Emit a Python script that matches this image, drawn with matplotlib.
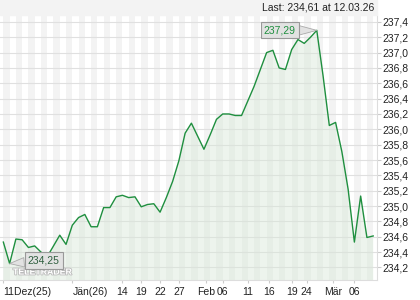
import numpy as np
import matplotlib
matplotlib.use("Agg")
import matplotlib.pyplot as plt
import matplotlib.patheffects as pe
from matplotlib.patches import Rectangle

plt.rcParams['font.family'] = ['Liberation Sans', 'DejaVu Sans']

# daily closing values, 60 trading days (Dec 25 -> Mar 26)
values = [234.53, 234.25, 234.57, 234.56, 234.46, 234.48, 234.40, 234.34, 234.48, 234.62,
          234.50, 234.75, 234.85, 234.89, 234.73, 234.73, 234.98, 234.98, 235.12, 235.14,
          235.11, 235.12, 234.99, 235.02, 235.03, 234.92, 235.11, 235.32, 235.59, 235.95,
          236.08, 235.91, 235.74, 235.93, 236.13, 236.20, 236.20, 236.18, 236.18, 236.37,
          236.56, 236.78, 237.00, 237.03, 236.80, 236.78, 237.04, 237.17, 237.12, 237.20,
          237.29, 236.70, 236.05, 236.09, 235.71, 235.22, 234.53, 235.13, 234.59, 234.61]

x_labels = ['11Dez(25)', 'Jän(26)', '14', '19', '22', '27', 'Feb', '06',
            '11', '16', '19', '24', 'Mär', '06']
x_label_pos = [0, 11, 19, 22, 25, 28, 32.3, 35, 39, 42.4, 46, 48.4, 52.6, 56]
y_ticks = [234.2, 234.4, 234.6, 234.8, 235.0, 235.2, 235.4, 235.6,
           235.8, 236.0, 236.2, 236.4, 236.6, 236.8, 237.0, 237.2, 237.4]
last_text = "Last: 234,61 at 12.03.26"

green = '#1f8f3f'
txt = '#222222'

x = np.arange(len(values))
vals = np.array(values)

fig = plt.figure(figsize=(4.2, 3.0), dpi=100)
ax = fig.add_axes([0.0005, 0.0667, 0.897, 0.8833])

# header band above the plot
fig.patches.append(Rectangle((0, 0.95), 0.8975, 0.05, transform=fig.transFigure,
                             color='#f3f3f3', zorder=0))
fig.text(0.89, 0.975, last_text, ha='right', va='center', fontsize=7.5, color=txt)

# alternating day stripes
for i in range(0, len(values) - 1, 2):
    ax.axvspan(i, i + 1, color='#f3f3f3', lw=0, zorder=0.1)

ax.set_axisbelow(True)
ax.yaxis.grid(True, color='#e0e0e0', lw=0.8)

ax.fill_between(x, vals, 230, color='#d8e8d8', alpha=0.45, lw=0, zorder=1)
ax.plot(x, vals, color=green, lw=1.0, zorder=2)

ax.set_xlim(-0.5, 59.6)
ax.set_ylim(234.036, 237.49)

ax.yaxis.tick_right()
ax.set_yticks(y_ticks)
ax.set_yticklabels([f"{v:.1f}".replace('.', ',') for v in y_ticks])
ax.tick_params(axis='y', length=3, color='#cccccc', pad=1, labelsize=7.5, labelcolor=txt)

ax.set_xticks(x_label_pos)
ax.set_xticklabels(x_labels)
ax.tick_params(axis='x', length=2, color='#cccccc', pad=3, labelsize=7.5, labelcolor=txt)
for lbl in ax.get_xticklabels()[:2]:
    lbl.set_ha('left')

for s in ['top', 'left']:
    ax.spines[s].set_visible(False)
ax.spines['right'].set_color('#dddddd')
ax.spines['bottom'].set_color('#dddddd')

# watermark
ax.text(0.034, 0.03, 'TELETRADER', transform=ax.transAxes, fontsize=6.3,
        fontweight='bold', color='white', va='center', ha='left', zorder=3,
        path_effects=[pe.withStroke(linewidth=1.2, foreground='#bbbbbb')])

# high / low markers
imax = int(np.argmax(vals))
imin = int(np.argmin(vals))
box = dict(boxstyle='square,pad=0.3', fc='#e2e2e2', ec='#999999', lw=0.8)
arrow = dict(arrowstyle='wedge,tail_width=0.9,shrink_factor=0.5', fc='#e2e2e2',
             ec='#aaaaaa', lw=0.6, shrinkA=0, shrinkB=0)
ax.annotate(f"{vals[imax]:.2f}".replace('.', ','), xy=(imax, vals[imax]),
            xytext=(-37, 0), textcoords='offset pixels', ha='center', va='center',
            fontsize=7.5, color=green, bbox=box, arrowprops=arrow, zorder=4)
ax.annotate(f"{vals[imin]:.2f}".replace('.', ','), xy=(imin, vals[imin]),
            xytext=(34, 3), textcoords='offset pixels', ha='center', va='center',
            fontsize=7.5, color='#2f5f3f', bbox=box, arrowprops=arrow, zorder=4)

fig.savefig('out.png', dpi=100)
